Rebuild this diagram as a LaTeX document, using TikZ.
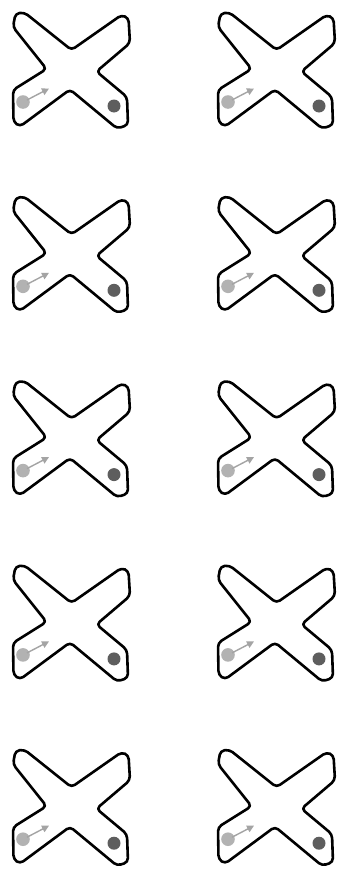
\documentclass[tikz,border=0pt]{standalone}
\usetikzlibrary{arrows.meta}
\definecolor{lightdot}{HTML}{B2B2B2}
\definecolor{darkdot}{HTML}{5E5E5E}
\definecolor{arrowgray}{HTML}{A4A4A4}
\begin{document}
\begin{tikzpicture}[
  x=1pt, y=-1pt,
  outline/.style={draw, line width=2.6pt, line join=round, rounded corners=4pt},
  pusharrow/.style={draw=arrowgray, line width=1.4pt, -{Triangle[length=7pt, width=7pt]}},
  card/.pic={
    % the cross outline
    \draw[outline] (13,27) -- (15.5,13.5) -- (24.5,12.5) -- (71.5,50) -- (121.5,15) -- (128.5,18)
      -- (130,43) -- (96.5,71.5) -- (127,97) -- (128,125) -- (117,128.5) -- (70,89.5)
      -- (20,126.5) -- (13.5,122) -- (13,90) -- (46.5,69) -- cycle;
    % the two dots
    \fill[lightdot] (23,102) circle (6.8pt);
    \draw[pusharrow] (27,100) -- (49,88.5);
    \fill[darkdot] (114,106) circle (6.5pt);
  }
]
\fill[white] (0,0) rectangle (339,870);
\useasboundingbox (0,0) rectangle (339,870);
\foreach \row in {0,...,4}
  \foreach \col in {0,1}
    \pic at (205*\col, 184.3*\row) {card};
\end{tikzpicture}
\end{document}
